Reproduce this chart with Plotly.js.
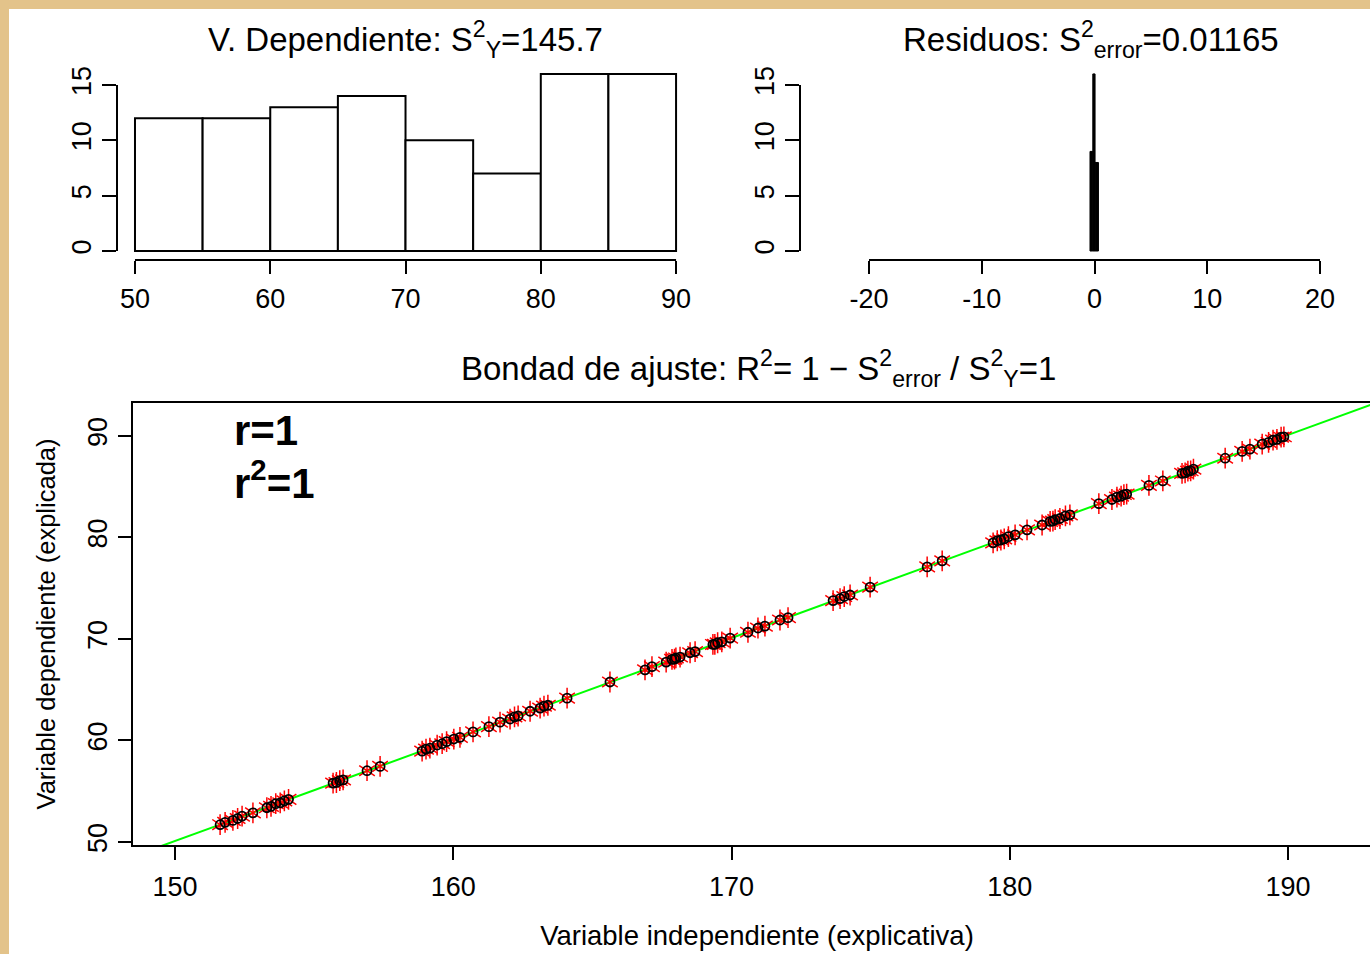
<!DOCTYPE html>
<html><head><meta charset="utf-8">
<script src="https://cdn.plot.ly/plotly-3.0.1.min.js"></script>
<style>
html,body{margin:0;padding:0;width:1370px;height:954px;overflow:hidden;background:#E3C38A;}
#paper{position:absolute;left:9px;top:9px;width:1361px;height:945px;background:#ffffff;}
#chart{position:absolute;left:0;top:0;width:1382px;height:954px;}
</style></head><body>
<div id="paper"></div><div id="chart"></div>
<script>
// ---- data ----
const xIndep = [
 151.62,151.80,152.08,152.25,152.41,152.80,153.30,153.45,153.62,153.78,153.93,154.08,
 155.68,155.80,155.92,156.04,156.90,157.37,158.88,159.02,159.16,159.42,159.60,159.76,
 160.02,160.24,160.71,161.28,161.68,162.04,162.20,162.33,162.76,163.12,163.26,163.40,164.09,
 165.63,166.89,167.14,167.65,167.86,167.95,168.00,168.15,168.51,168.69,169.33,169.40,169.50,169.65,
 169.95,170.59,170.95,171.20,171.74,172.03,173.65,173.90,174.05,174.26,
 174.98,177.03,177.57,179.40,179.55,179.68,179.80,
 179.95,180.19,180.62,181.16,181.45,181.55,181.63,181.80,182.00,182.16,183.20,183.67,183.85,184.00,184.10,184.20,
 185.00,185.50,186.19,186.30,186.40,186.50,186.60,187.74,188.35,188.63,189.07,189.30,189.46,189.60,189.75,189.85
];
const yDep = [
 51.70,51.93,52.12,52.31,52.55,52.87,53.37,53.51,53.77,53.85,54.05,54.20,
 55.80,55.86,56.05,56.11,57.02,57.44,58.95,59.15,59.24,59.55,59.68,59.88,
 60.14,60.31,60.84,61.36,61.80,62.11,62.33,62.41,62.88,63.19,63.39,63.47,64.17,
 65.76,66.96,67.27,67.72,67.99,68.02,68.13,68.22,68.64,68.76,69.46,69.47,69.63,69.72,
 70.09,70.66,71.08,71.27,71.87,72.10,73.78,73.97,74.18,74.33,
 75.11,77.10,77.70,79.47,79.68,79.75,79.86,
 80.08,80.26,80.75,81.23,81.58,81.62,81.76,81.87,82.13,82.23,83.33,83.74,83.98,84.07,84.23,84.27,
 85.13,85.57,86.32,86.37,86.53,86.57,86.73,87.81,88.48,88.70,89.20,89.37,89.59,89.67,89.88,89.92
];
const depBins = {start: 50, end: 90, size: 5};
const depTicks = [50, 60, 70, 80, 90];
const countTicks = [0, 5, 10, 15];
const residCenters = [-0.275, -0.05, 0.2];
const residWidths = [0.25, 0.2, 0.3];
const residCounts = [9, 16, 8];
const residTicks = [-20, -10, 0, 10, 20];
const residTickText = ["-20", "-10", "0", "10", "20"];
const scatterXTicks = [150, 160, 170, 180, 190];
const scatterYTicks = [50, 60, 70, 80, 90];

// ---- geometry ----
const W = 1382, H = 954;
const px = v => v / W;
const py = v => 1 - v / H;

// least squares fit
const n = xIndep.length;
const mx = xIndep.reduce((a,b)=>a+b,0)/n, my = yDep.reduce((a,b)=>a+b,0)/n;
let sxy=0, sxx=0;
for (let i=0;i<n;i++){ sxy += (xIndep[i]-mx)*(yDep[i]-my); sxx += (xIndep[i]-mx)**2; }
const slope = sxy/sxx, icpt = my - slope*mx;
const xr3 = [148.49, 193.34];
const fitX = [xr3[0], xr3[1]];
const fitY = fitX.map(x => icpt + slope*x);

const tickFont = {family: 'Liberation Sans, Arial', size: 27, color: '#000'};
const titleFont = {family: 'Liberation Sans, Arial', size: 33, color: '#000'};

const xa1 = {domain:[px(117), px(700)], range:[48.67, 91.77]};
const ya1 = {domain:[py(260), py(60)], range:[-0.813, 17.26]};
const xa2 = {domain:[px(800), px(1382)], range:[-26.12, 25.5]};
const ya2 = {domain:[py(260), py(60)], range:[-0.813, 17.26]};

function toPX(ax, v){ return ax.domain[0] + (v-ax.range[0])/(ax.range[1]-ax.range[0])*(ax.domain[1]-ax.domain[0]); }

const traces = [
 {type:'histogram', x: yDep, xbins: depBins, xaxis:'x', yaxis:'y',
  marker:{color:'#ffffff', line:{color:'#000', width:2}}, hoverinfo:'skip'},
 {type:'bar', x: residCenters, y: residCounts, width: residWidths, xaxis:'x2', yaxis:'y2',
  marker:{color:'#000', line:{color:'#000', width:1}}, hoverinfo:'skip'},
 {type:'scatter', mode:'lines', x: fitX, y: fitY, xaxis:'x3', yaxis:'y3',
  line:{color:'#00ff00', width:2}, hoverinfo:'skip'},
 {type:'scatter', mode:'markers', x: xIndep, y: yDep, xaxis:'x3', yaxis:'y3',
  marker:{symbol:'y-up-open', size:13, color:'#ff0000', line:{color:'#ff0000', width:1.5}}, hoverinfo:'skip'},
 {type:'scatter', mode:'markers', x: xIndep, y: yDep, xaxis:'x3', yaxis:'y3',
  marker:{symbol:'y-down-open', size:13, color:'#ff0000', line:{color:'#ff0000', width:1.5}}, hoverinfo:'skip'},
 {type:'scatter', mode:'markers', x: xIndep, y: yDep, xaxis:'x3', yaxis:'y3',
  marker:{symbol:'circle-open', size:9, color:'#000', line:{color:'#000', width:1.8}}, hoverinfo:'skip'}
];

const commonAx = {showgrid:false, zeroline:false, showline:false, ticks:'outside',
  tickcolor:'#000', tickwidth:2, tickfont: tickFont, fixedrange:true};

const axisLine = (x0,y0,x1,y1) => ({type:'line', xref:'paper', yref:'paper', x0, y0, x1, y1, line:{color:'#000', width:2}});

const layout = {
  width: W, height: H, margin:{l:0,r:0,t:0,b:0},
  paper_bgcolor:'rgba(0,0,0,0)', plot_bgcolor:'rgba(0,0,0,0)',
  showlegend:false, bargap:0,
  font:{family:'Liberation Sans, Arial', color:'#000'},
  xaxis: Object.assign({}, commonAx, xa1, {anchor:'y', tickvals: depTicks, ticklen:13, ticklabelstandoff:2}),
  yaxis: Object.assign({}, commonAx, ya1, {anchor:'x', tickvals: countTicks, ticklen:14, tickangle:-90}),
  xaxis2: Object.assign({}, commonAx, xa2, {anchor:'y2', tickvals: residTicks, ticktext: residTickText, ticklen:13, ticklabelstandoff:2}),
  yaxis2: Object.assign({}, commonAx, ya2, {anchor:'x2', tickvals: countTicks, ticklen:14, tickangle:-90}),
  xaxis3: Object.assign({}, commonAx, {domain:[px(133), px(1381)], range: xr3, anchor:'y3',
     tickvals: scatterXTicks, ticklen:13, ticklabelstandoff:4, showline:true, mirror:true, linecolor:'#000', linewidth:2,
     title:{text:'Variable independiente (explicativa)', font:{family:'Liberation Sans, Arial', size:27.5}, standoff:24}}),
  yaxis3: Object.assign({}, commonAx, {domain:[py(845), py(403)], range:[49.7, 93.25], anchor:'x3',
     tickvals: scatterYTicks, ticklen:13, tickangle:-90, showline:true, mirror:true, linecolor:'#000', linewidth:2,
     title:{text:'Variable dependiente (explicada)', font:{family:'Liberation Sans, Arial', size:25.5}, standoff:20}}),
  shapes: [
    axisLine(toPX(xa1,50), ya1.domain[0], toPX(xa1,90), ya1.domain[0]),
    axisLine(xa1.domain[0], toPX(ya1,0), xa1.domain[0], toPX(ya1,15)),
    axisLine(toPX(xa2,-20), ya2.domain[0], toPX(xa2,20), ya2.domain[0]),
    axisLine(xa2.domain[0], toPX(ya2,0), xa2.domain[0], toPX(ya2,15))
  ],
  annotations: [
    {xref:'paper', yref:'paper', x: px(405), y: py(40), text:'V. Dependiente: S<sup>2</sup><sub>Y</sub>=145.7',
     showarrow:false, font:titleFont, xanchor:'center', yanchor:'middle'},
    {xref:'paper', yref:'paper', x: px(1091), y: py(40), text:'Residuos: S<sup>2</sup><sub>error</sub>=0.01165',
     showarrow:false, font:titleFont, xanchor:'center', yanchor:'middle'},
    {xref:'paper', yref:'paper', x: px(758), y: py(368), text:'Bondad de ajuste: R<sup>2</sup>= 1 \u2212 S<sup>2</sup><sub>error</sub> / S<sup>2</sup><sub>Y</sub>=1',
     showarrow:false, font:titleFont, xanchor:'center', yanchor:'middle'},
    {xref:'paper', yref:'paper', x: px(232), y: py(431), text:'<b>r=1</b>',
     showarrow:false, font:{family:'Liberation Sans, Arial', size:42}, xanchor:'left', yanchor:'middle'},
    {xref:'paper', yref:'paper', x: px(232), y: py(480), text:'<b>r<sup>2</sup>=1</b>',
     showarrow:false, font:{family:'Liberation Sans, Arial', size:42}, xanchor:'left', yanchor:'middle'}
  ]
};

Plotly.newPlot('chart', traces, layout, {staticPlot:true, displayModeBar:false});
</script>
</body></html>
